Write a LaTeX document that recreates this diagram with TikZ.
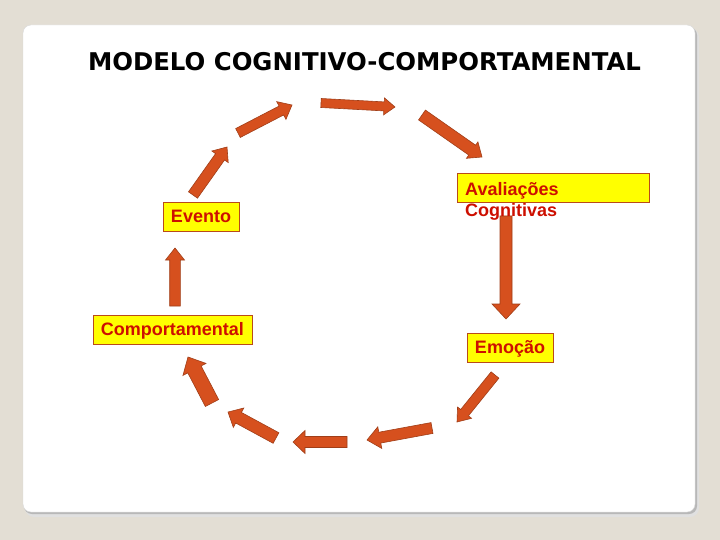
\documentclass[tikz,border=0pt]{standalone}
\usepackage{fontspec}
\setmainfont{Liberation Sans}
\newfontfamily\titlefont{DejaVu Sans}
\newfontfamily\labelfont{Liberation Sans}
\usetikzlibrary{positioning,calc}

\definecolor{pagebg}{RGB}{227,222,212}
\definecolor{arrowfill}{RGB}{214,80,30}
\definecolor{arrowedge}{RGB}{160,62,24}
\definecolor{boxfill}{RGB}{255,255,0}
\definecolor{boxedge}{RGB}{185,75,25}
\definecolor{labelred}{RGB}{205,15,0}

% block arrow sizes (half widths and head length)
\tikzset{
  shaft w/.store in=\arrowshaftw, shaft w=5.5pt,
  head w/.store in=\arrowheadw, head w=11pt,
  head l/.store in=\arrowheadl, head l=13pt
}

\begin{document}
\begin{tikzpicture}[
  x=1pt, y=-1pt,
  labelbox/.style={
    draw=boxedge,
    fill=boxfill,
    line width=0.8pt,
    text=labelred,
    font=\labelfont\bfseries\fontsize{18}{21}\selectfont,
    inner xsep=8pt,
    inner ysep=0pt,
    text height=12.9pt,
    text depth=0pt,
    minimum height=29pt
  },
  labeltext/.style={
    text=labelred,
    font=\labelfont\bfseries\fontsize{18}{21}\selectfont,
    align=left,
    inner sep=0pt
  },
  blockarrow/.style={
    draw=arrowedge,
    fill=arrowfill,
    line width=0.6pt,
    to path={
      ($(\tikztostart)!\arrowshaftw!90:(\tikztotarget)$)
      -- ($(\tikztotarget)!\arrowheadl!(\tikztostart)!\arrowshaftw!-90:(\tikztostart)$)
      -- ($(\tikztotarget)!\arrowheadl!(\tikztostart)!\arrowheadw!-90:(\tikztostart)$)
      -- (\tikztotarget)
      -- ($(\tikztotarget)!\arrowheadl!(\tikztostart)!\arrowheadw!90:(\tikztostart)$)
      -- ($(\tikztotarget)!\arrowheadl!(\tikztostart)!\arrowshaftw!90:(\tikztostart)$)
      -- ($(\tikztostart)!\arrowshaftw!-90:(\tikztotarget)$)
      -- cycle
    }
  }
]

% page and card
\fill[pagebg] (0,0) rectangle (720,540);
\fill[black!12, rounded corners=9pt] (25,28) rectangle (699,517);
\fill[black!28, rounded corners=8pt] (24,27) rectangle (697,514);
\fill[white, draw=black!15, line width=0.4pt, rounded corners=8pt] (23,25) rectangle (695,512);

\node[font=\titlefont\bfseries\fontsize{24.4}{28}\selectfont, inner sep=0pt] (title) at (364.5,62) {MODELO COGNITIVO-COMPORTAMENTAL};

% labels of the cycle
\node[labelbox] (evento) at (201,216.5) {Evento};
\node[labelbox] (comport) at (172.5,329.5) {Comportamental};
\node[labelbox] (emocao) at (510,347.5) {Emoção};
\node[labelbox, minimum width=192pt, anchor=north west] (aval) at (457,173) {};

% arrow ends
\coordinate (a1s) at (193,195);  \coordinate (a1e) at (227,147);
\coordinate (a2s) at (238,133);  \coordinate (a2e) at (292,105);
\coordinate (a3s) at (321,103);  \coordinate (a3e) at (395,107);
\coordinate (a4s) at (422,115);  \coordinate (a4e) at (482,157);
\coordinate (a5s) at (506,216);  \coordinate (a5e) at (506,319);
\coordinate (a6s) at (495,375);  \coordinate (a6e) at (457,422);
\coordinate (a7s) at (432,428);  \coordinate (a7e) at (367,440);
\coordinate (a8s) at (347,442);  \coordinate (a8e) at (293,442);
\coordinate (a9s) at (276,438);  \coordinate (a9e) at (228,412);
\coordinate (a10s) at (212,403); \coordinate (a10e) at (188,357);
\coordinate (a11s) at (175,306); \coordinate (a11e) at (175,248);

\draw[blockarrow, head w=10pt, head l=12pt] (a1s) to (a1e);
\draw[blockarrow, shaft w=5pt, head w=10pt, head l=12pt] (a2s) to (a2e);
\draw[blockarrow, shaft w=4.5pt, head w=8.5pt, head l=11pt] (a3s) to (a3e);
\draw[blockarrow, shaft w=6pt, head w=10pt, head l=12pt] (a4s) to (a4e);
\draw[blockarrow, shaft w=6pt, head w=14pt, head l=15pt] (a5s) to (a5e);
\draw[blockarrow, shaft w=5pt, head w=9pt, head l=12pt] (a6s) to (a6e);
\draw[blockarrow, shaft w=5.5pt, head w=11pt, head l=13pt] (a7s) to (a7e);
\draw[blockarrow, shaft w=5.5pt, head w=11.5pt, head l=12pt] (a8s) to (a8e);
\draw[blockarrow, shaft w=6pt, head w=11pt, head l=12pt] (a9s) to (a9e);
\draw[blockarrow, shaft w=7.5pt, head w=13pt, head l=14pt] (a10s) to (a10e);
\draw[blockarrow, shaft w=5.3pt, head w=9.5pt, head l=12pt] (a11s) to (a11e);

% overflowing text of the right box
\node[labeltext, anchor=north west] (avaltext) at (465,182) {Avaliações\\Cognitivas};

\end{tikzpicture}
\end{document}
